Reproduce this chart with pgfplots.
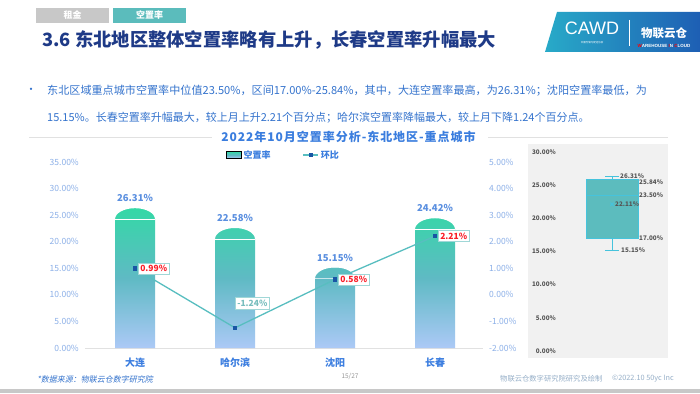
\documentclass[border=0pt]{standalone}
\usepackage{fontspec}
\setmainfont{Noto Sans CJK SC}
\newfontfamily\slfont[FakeSlant=0.2]{Noto Sans CJK SC}
\newfontfamily\latinfont{Liberation Sans}
\usepackage{pgfplots}
\pgfplotsset{compat=1.18}
\pgfkeys{/pgf/number format/assume math mode=true}

\definecolor{navy}{RGB}{30,58,135}
\definecolor{tealtab}{RGB}{91,188,188}
\definecolor{graytab}{RGB}{200,200,200}
\definecolor{textblue}{RGB}{52,115,205}
\definecolor{charttitle}{RGB}{58,125,222}
\definecolor{ticklab}{RGB}{140,176,232}
\definecolor{catblue}{RGB}{60,126,224}
\definecolor{vallab}{RGB}{90,143,224}
\definecolor{bartop}{RGB}{52,216,166}
\definecolor{barmid}{RGB}{95,186,196}
\definecolor{barbot}{RGB}{172,201,246}
\definecolor{lineteal}{RGB}{88,190,192}
\definecolor{markblue}{RGB}{25,85,165}
\definecolor{boxborder}{RGB}{160,215,215}
\definecolor{labred}{RGB}{250,30,40}
\definecolor{labteal}{RGB}{120,190,190}
\definecolor{panel}{RGB}{241,241,241}
\definecolor{boxfill}{RGB}{92,188,190}
\definecolor{boxline}{RGB}{70,195,220}
\definecolor{boxtext}{RGB}{85,85,85}
\definecolor{rulegray}{RGB}{225,225,225}
\definecolor{logoteal}{RGB}{40,170,200}
\definecolor{logoblue}{RGB}{30,95,180}
\definecolor{footgray}{RGB}{150,150,150}
\definecolor{footblue}{RGB}{150,175,200}

\pgfplotsset{
  mylinelegend/.style={legend image code/.code={\draw[mark repeat=2,mark phase=2,##1] plot coordinates {(0pt,0pt) (7.5pt,0pt) (15pt,0pt)};}},
  mybarlegend/.style={legend image code/.code={\path[top color=bartop,bottom color=barbot,middle color=barmid] (0pt,-3.5pt) rectangle (15pt,3.5pt);}},
}

\pgfdeclareplotmark{capmask}{%
  \pgfscope
  \pgfpathrectangle{\pgfpoint{-21pt}{-11pt}}{\pgfpoint{42pt}{11.6pt}}%
  \pgfusepath{clip}%
  \pgfpathrectangle{\pgfpoint{-21pt}{-11pt}}{\pgfpoint{42pt}{11.6pt}}%
  \pgfpathellipse{\pgfpoint{0pt}{-11pt}}{\pgfpoint{20pt}{0pt}}{\pgfpoint{0pt}{11pt}}%
  \pgfseteorule
  \pgfsetfillcolor{white}%
  \pgfusepath{fill}%
  \endpgfscope
}

\pgfplotstableread{
x rate
0 26.31
1 22.58
2 15.15
3 24.42
}\ratetable
\pgfplotstableread{
x chg
0 0.99
1 -1.24
2 0.58
3 2.21
}\chgtable

\begin{document}
\begin{tikzpicture}
\useasboundingbox (0pt,0pt) rectangle (700pt,-393pt);
\fill[white] (0pt,0pt) rectangle (700pt,-393pt);

\begin{scope}[x=1pt,y=-1pt]
  % header tabs
  \fill[graytab] (36,8) rectangle (109,23);
  \node[font=\bfseries\fontsize{9}{10}\selectfont, text=white] at (72.5,15.5) {租金};
  \fill[tealtab] (113,8) rectangle (186,23);
  \node[font=\bfseries\fontsize{9}{10}\selectfont, text=white] at (149.5,15.5) {空置率};
  % title
  \node[anchor=west, font=\bfseries\fontsize{18.3}{21}\selectfont, text=navy, inner sep=0pt] at (42,40) {3.6 东北地区整体空置率略有上升，长春空置率升幅最大};
  % logo
  \shade[left color=logoteal, right color=logoblue] (557,12) -- (700,12) -- (700,52) -- (545,52) -- cycle;
  \node[font=\latinfont\fontsize{18}{20}\selectfont, text=white] at (592,28) {CAWD};
  \node[font=\fontsize{2.5}{3}\selectfont, text=white] at (592,43) {中国仓储与配送协会};
  \draw[white, line width=0.4pt] (629,20) -- (629,46);
  \node[font=\bfseries\fontsize{11.5}{13}\selectfont, text=white] at (664,33) {物联云仓};
  \node[font=\latinfont\bfseries\fontsize{4.5}{5}\selectfont, text=white] at (664,46) {{\color{red}W}AREHOUSE {\color{red}I}N {\color{red}C}LOUD};
  % bullet text
  \node[font=\fontsize{11}{13}\selectfont, text=textblue] at (31,91) {•};
  \node[anchor=west, inner sep=0pt, font=\fontsize{11.1}{13}\selectfont, text=textblue] at (47,91) {东北区域重点城市空置率中位值23.50\%，区间17.00\%-25.84\%，其中，大连空置率最高，为26.31\%；沈阳空置率最低，为};
  \node[anchor=west, inner sep=0pt, font=\fontsize{11}{13}\selectfont, text=textblue] at (47,118) {15.15\%。长春空置率升幅最大，较上月上升2.21个百分点；哈尔滨空置率降幅最大，较上月下降1.24个百分点。};
  % chart title
  \draw[rulegray, line width=0.6pt] (29,137) -- (212,137);
  \draw[rulegray, line width=0.6pt] (488,137) -- (668,137);
  \node[font=\bfseries\fontsize{12}{14}\selectfont, text=charttitle] at (348.5,137) {\addfontfeatures{LetterSpace=8}2022年10月空置率分析-东北地区-重点城市};
  % footer
  \node[anchor=west, inner sep=0pt, font=\slfont\fontsize{8}{9}\selectfont, text=textblue] at (37,379) {*数据来源：物联云仓数字研究院};
  \node[font=\fontsize{6.5}{7}\selectfont, text=footgray] at (350,376) {15/27};
  \node[anchor=west, inner sep=0pt, font=\fontsize{7.3}{8}\selectfont, text=footblue] at (500,379) {物联云仓数字研究院研究及绘制};
  \node[anchor=west, inner sep=0pt, font=\fontsize{7.3}{8}\selectfont, text=footblue] at (612,379) {©2022.10 50yc Inc};
  \fill[graytab] (0,389) rectangle (700,393);
\end{scope}

% main axis (left)
\begin{axis}[
  at={(85pt,-348pt)}, anchor=south west,
  scale only axis, width=400pt, height=186pt,
  xmin=-0.5, xmax=3.5, ymin=0, ymax=35,
  axis line style={draw=none}, tick style={draw=none},
  xtick={0,1,2,3}, xticklabels={大连,哈尔滨,沈阳,长春},
  xticklabel style={font=\bfseries\fontsize{10}{12}\selectfont, text=catblue, anchor=center, inner sep=0pt, yshift=-15pt},
  ytick={0,5,...,35},
  yticklabel={\pgfmathprintnumber[fixed,fixed zerofill,precision=2]{\tick}\%},
  yticklabel style={font=\fontsize{8.5}{10}\selectfont, text=ticklab, anchor=east, inner sep=0pt, xshift=-6pt},
  clip=false,
]
\draw[rulegray, line width=0.8pt] (axis cs:-0.5,0) -- (axis cs:3.48,0);
\addplot[ybar, bar width=40pt, draw=none, top color=bartop, bottom color=barbot, middle color=barmid] table[x=x, y=rate] {\ratetable};
\addplot[only marks, mark=capmask,
  nodes near coords={\pgfmathprintnumber[fixed,fixed zerofill,precision=2]{\pgfplotspointmeta}\%},
  nodes near coords style={font=\bfseries\fontsize{9.5}{11}\selectfont, text=vallab, anchor=south, inner sep=0pt, yshift=6pt}]
  table[x=x, y=rate] {\ratetable};
\end{axis}

% right axis with line
\begin{axis}[
  at={(85pt,-348pt)}, anchor=south west,
  scale only axis, width=400pt, height=186pt,
  xmin=-0.5, xmax=3.5, ymin=-2, ymax=5,
  axis line style={draw=none}, tick style={draw=none},
  xtick=\empty, ytick={-2,-1,...,5},
  yticklabel pos=right,
  yticklabel={\pgfmathprintnumber[fixed,fixed zerofill,precision=2]{\tick}\%},
  yticklabel style={font=\fontsize{8.5}{10}\selectfont, text=ticklab, anchor=west, inner sep=0pt, xshift=4pt},
  clip=false,
  legend style={at={(axis description cs:0.3525,1.0376)}, anchor=west, draw=none, fill=none, inner sep=0pt,
    font=\bfseries\fontsize{9}{11}\selectfont, text=charttitle, legend columns=2,
    /tikz/every even column/.append style={column sep=30pt}},
  legend cell align=left,
]
\addlegendimage{mybarlegend}
\addlegendentry{空置率}
\addplot[lineteal, line width=1.3pt, mark=square*, mark size=1.6pt, mark options={fill=markblue, draw=markblue, line width=0pt}, mylinelegend]
  table[x=x, y=chg] {\chgtable};
\addlegendentry{环比}
\addplot[draw=none, forget plot,
  nodes near coords={\pgfmathprintnumber[fixed,fixed zerofill,precision=2]{\pgfplotspointmeta}\%},
  nodes near coords style={font=\bfseries\fontsize{8.5}{10}\selectfont, text=labred, draw=boxborder, fill=white, line width=0.6pt, inner xsep=2pt, inner ysep=2.3pt, anchor=west, xshift=3pt}]
  coordinates {(0,0.99) (2,0.58) (3,2.21)};
\addplot[draw=none, forget plot,
  nodes near coords={\pgfmathprintnumber[fixed,fixed zerofill,precision=2]{\pgfplotspointmeta}\%},
  nodes near coords style={font=\bfseries\fontsize{8.5}{10}\selectfont, text=labteal, draw=boxborder, fill=white, line width=0.6pt, inner xsep=2pt, inner ysep=2.3pt, anchor=west, yshift=24.5pt}]
  coordinates {(1,-1.24)};
\end{axis}

% boxplot panel
\begin{axis}[
  at={(528pt,-358pt)}, anchor=south west,
  scale only axis, width=140pt, height=214pt,
  xmin=0, xmax=140, ymin=-1.06, ymax=31.2,
  axis background/.style={fill=panel},
  axis line style={draw=none}, tick style={draw=none},
  xtick=\empty, ytick={0,5,...,30},
  yticklabel={\pgfmathprintnumber[fixed,fixed zerofill,precision=2]{\tick}\%},
  yticklabel style={font=\bfseries\fontsize{6.3}{7}\selectfont, text=boxtext, anchor=east, inner sep=0pt, xshift=28pt},
  clip=false,
]
% box (lower quartile 17.00, upper quartile 25.84)
\addplot[fill=boxfill, draw=boxline, line width=0.7pt] coordinates {(58,17.00) (110,17.00) (110,25.84) (58,25.84) (58,17.00)};
% median 23.50
\addplot[boxline, line width=0.9pt] coordinates {(58,23.50) (110,23.50)};
% whiskers 26.31 / 15.15
\addplot[boxline, line width=0.8pt] coordinates {(84,25.84) (84,26.31)};
\addplot[boxline, line width=0.8pt] coordinates {(77,26.31) (91,26.31)};
\addplot[boxline, line width=0.8pt] coordinates {(84,17.00) (84,15.15)};
\addplot[boxline, line width=0.8pt] coordinates {(77,15.15) (91,15.15)};
% average 22.11
\addplot[only marks, mark=x, mark size=2.5pt, boxline, line width=0.8pt] coordinates {(84,22.11)};
\node[anchor=west, inner sep=0pt, font=\bfseries\fontsize{6.3}{7}\selectfont, text=boxtext] at (axis cs:92,26.31) {26.31\%};
\node[anchor=west, inner sep=0pt, font=\bfseries\fontsize{6.3}{7}\selectfont, text=boxtext] at (axis cs:111,25.4) {25.84\%};
\node[anchor=west, inner sep=0pt, font=\bfseries\fontsize{6.3}{7}\selectfont, text=boxtext] at (axis cs:111,23.5) {23.50\%};
\node[anchor=west, inner sep=0pt, font=\bfseries\fontsize{6.3}{7}\selectfont, text=boxtext] at (axis cs:87,22.11) {22.11\%};
\node[anchor=west, inner sep=0pt, font=\bfseries\fontsize{6.3}{7}\selectfont, text=boxtext] at (axis cs:111,17.0) {17.00\%};
\node[anchor=west, inner sep=0pt, font=\bfseries\fontsize{6.3}{7}\selectfont, text=boxtext] at (axis cs:93,15.15) {15.15\%};
\end{axis}
\end{tikzpicture}
\end{document}
